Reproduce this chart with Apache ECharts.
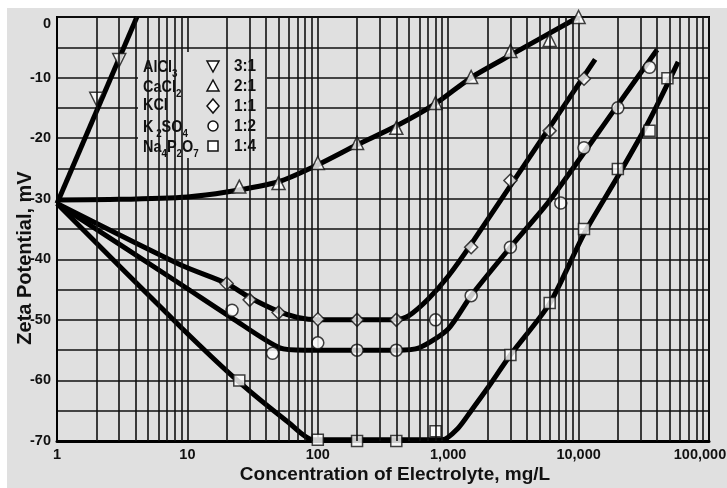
<!DOCTYPE html>
<html><head><meta charset="utf-8">
<script src="https://cdn.jsdelivr.net/npm/echarts@6/dist/echarts.min.js"></script>
<style>html,body{margin:0;padding:0;background:#fff}#c{width:727px;height:488px}</style>
</head><body><div id="c"></div>
<script>
const INK = '#111';
const BG = '#e0e0e0';

// Axis tick labels
const xTickValues = [1, 10, 100, 1000, 10000, 100000];
const xTickLabels = ['1', '10', '100', '1,000', '10,000', '100,000'];
const yTickValues = [0, -10, -20, -30, -40, -50, -60, -70];
const yTickLabels = ['0', '-10', '-20', '-30', '-40', '-50', '-60', '-70'];

// Legend
const seriesNames = ['AlCl3', 'CaCl2', 'KCl', 'K2SO4', 'Na4P2O7'];
const legendRich = ['{b|AlCl}{s|3}', '{b|CaCl}{s|2}', '{b|KCl}', '{b|K}{s| 2}{b|SO}{s|4}', '{b|Na}{s|4}{b|P}{s|2}{b|O}{s|7}'];
const ratios = ['3:1', '2:1', '1:1', '1:2', '1:4'];

// Measured points (markers)
const alcl3X = [2, 3];
const alcl3Y = [-13.5, -7.1];
const cacl2X = [25, 50, 100, 200, 400, 800, 1500, 3000, 6000, 10000];
const cacl2Y = [-28, -27.4, -24.1, -20.8, -18.3, -14.2, -9.9, -5.6, -3.8, 0];
const kclX = [20, 30, 50, 100, 200, 400, 1500, 3000, 6000, 11000];
const kclY = [-44, -46.7, -48.8, -49.9, -50, -50, -38, -27, -18.8, -10.2];
const k2so4X = [22, 45, 100, 200, 400, 800, 1500, 3000, 7300, 11000, 20000, 35000];
const k2so4Y = [-48.4, -55.5, -53.8, -55, -55, -50, -46, -38, -30.7, -21.6, -15, -8.3];
const na4X = [25, 100, 200, 400, 800, 3000, 6000, 11000, 20000, 35000, 48000];
const na4Y = [-60, -69.8, -70, -70, -68.4, -55.8, -47.2, -35, -25.1, -18.8, -10.1];

// Fitted curves
const alcl3LineX = [1, 4.1];
const alcl3LineY = [-30.8, 0];
const cacl2LineX = [1, 3, 10, 20, 50, 100, 200, 400, 800, 1500, 3000, 10000];
const cacl2LineY = [-30.2, -30.1, -29.7, -28.9, -27.2, -24.4, -21.1, -18, -14.3, -10, -6.3, 0];
const kclLineX = [1, 9, 20, 30, 50, 70, 100, 400, 500, 700, 1000, 1500, 13400];
const kclLineY = [-30.8, -41, -44, -46.3, -48.6, -49.6, -50, -50, -49.3, -46.6, -42.8, -37.5, -7];
const k2so4LineX = [1, 9, 22, 51, 80, 400, 600, 1000, 1500, 3000, 6000, 20000, 40000];
const k2so4LineY = [-30.8, -44.2, -49.7, -54.6, -55, -55, -54.6, -51.5, -46, -38, -30.3, -14.5, -5.4];
const na4LineX = [1, 9, 25, 60, 92, 900, 1200, 1500, 2000, 3000, 6000, 11000, 20000, 35000, 58000];
const na4LineY = [-30.8, -51.3, -60.3, -67, -69.8, -69.8, -67.8, -65, -61.3, -55.8, -47.3, -35.8, -26.3, -17, -7.4];

const zip = (xs, ys) => xs.map((x, i) => [x, ys[i]]);

const FONT = "'Liberation Sans', Arial, sans-serif";

// minor log grid positions 2..9 per decade
const minorX = [];
for (let d = 1; d < 100000; d *= 10) for (let m = 2; m <= 9; m++) minorX.push(m * d);

const markerStyle = {color: '#fff', borderColor: INK, borderWidth: 1.5};
const lineSeries = (name, xs, ys) => ({
  name: name + ' fit', type: 'line', data: zip(xs, ys), showSymbol: false, symbol: 'none',
  smooth: 0.25, lineStyle: {color: '#000', width: 5}, z: 3, silent: true
});
const pointSeries = (name, xs, ys, symbol, rot) => ({
  name: name, type: 'scatter', data: zip(xs, ys), symbol: symbol, symbolRotate: rot || 0,
  symbolSize: symbol === 'circle' ? 12 : (symbol === 'rect' ? 11 : 13), itemStyle: markerStyle, z: 4
});

const labelFont = {fontFamily: FONT, fontWeight: 'bold', fontSize: 14.5, color: INK};

// legend graphics
const rowY = [66, 86, 106, 126, 146];
const symX = 213;
function symbolGraphic(kind, cx, cy) {
  const st = {fill: '#fff', stroke: INK, lineWidth: 1.5};
  if (kind === 'down') return {type: 'polygon', shape: {points: [[cx - 6, cy - 5], [cx + 6, cy - 5], [cx, cy + 6]]}, style: st, z: 6};
  if (kind === 'up') return {type: 'polygon', shape: {points: [[cx - 6, cy + 5], [cx + 6, cy + 5], [cx, cy - 6]]}, style: st, z: 6};
  if (kind === 'diamond') return {type: 'polygon', shape: {points: [[cx, cy - 7], [cx + 6, cy], [cx, cy + 7], [cx - 6, cy]]}, style: st, z: 6};
  if (kind === 'circle') return {type: 'circle', shape: {cx: cx, cy: cy, r: 5}, style: st, z: 6};
  return {type: 'rect', shape: {x: cx - 5, y: cy - 5, width: 10, height: 10}, style: st, z: 6};
}
const legendKinds = ['down', 'up', 'diamond', 'circle', 'rect'];
const graphics = [
  {type: 'rect', shape: {x: 0, y: 0, width: 727, height: 8}, style: {fill: '#fff'}, z: 10},
  {type: 'rect', shape: {x: 0, y: 0, width: 7, height: 488}, style: {fill: '#fff'}, z: 10},
  {type: 'rect', shape: {x: 138, y: 52, width: 129, height: 106}, style: {fill: BG}, z: 5}
];
legendRich.forEach((t, i) => {
  const hasSub = t.indexOf('{s|') >= 0;
  graphics.push({
    type: 'text', x: 143, y: rowY[i] + (hasSub ? 2 : 0), z: 6, scaleX: 0.85,
    style: {
      text: t, verticalAlign: 'middle', align: 'left',
      rich: {
        b: {fontFamily: FONT, fontWeight: 'bold', fontSize: 17, lineHeight: 18, verticalAlign: 'top', fill: INK},
        s: {fontFamily: FONT, fontWeight: 'bold', fontSize: 11.5, lineHeight: 13, verticalAlign: 'top', padding: [9, 0, 0, 0], fill: INK}
      }
    }
  });
  graphics.push(symbolGraphic(legendKinds[i], symX, rowY[i]));
  graphics.push({type: 'text', x: 234, y: rowY[i], z: 6, scaleX: 0.9,
    style: {text: ratios[i], verticalAlign: 'middle', align: 'left', fontFamily: FONT, fontWeight: 'bold', fontSize: 17, fill: INK}});
});

const chart = echarts.init(document.getElementById('c'), null, {renderer: 'canvas'});
chart.setOption({
  animation: false,
  backgroundColor: BG,
  grid: {left: 57, right: 18, top: 17, bottom: 47, containLabel: false, outerBoundsMode: 'none',
    show: true, borderColor: '#000', borderWidth: 2, backgroundColor: 'transparent'},
  xAxis: {
    type: 'log', logBase: 10, min: 1, max: 100000,
    axisLine: {show: true, onZero: false, lineStyle: {color: '#000', width: 3}},
    axisTick: {show: false},
    splitLine: {show: true, lineStyle: {color: INK, width: 1.6}},
    axisLabel: Object.assign({margin: 6, hideOverlap: false, formatter: v => {
      const i = xTickValues.findIndex(t => Math.abs(Math.log10(t) - Math.log10(v)) < 1e-6);
      if (i < 0) return '';
      return i === xTickValues.length - 1 ? '{last|' + xTickLabels[i] + '}' : xTickLabels[i];
    }, rich: {last: Object.assign({padding: [0, 18, 0, 0]}, labelFont)}}, labelFont),
    name: 'Concentration of Electrolyte, mg/L', nameLocation: 'middle', nameGap: 24, nameMoveOverlap: false,
    nameTextStyle: {fontFamily: FONT, fontWeight: 'bold', fontSize: 19, color: INK, padding: [0, 0, 0, 24]}
  },
  yAxis: {
    type: 'value', min: -70, max: 0, interval: 5,
    axisLine: {show: true, onZero: false, lineStyle: {color: '#000', width: 2}},
    axisTick: {show: false},
    splitLine: {show: true, lineStyle: {color: INK, width: 1.6}},
    axisLabel: Object.assign({margin: 6, formatter: v => {
      const i = yTickValues.indexOf(v);
      if (i < 0) return '';
      return v === 0 ? '{top|' + yTickLabels[i] + '}' : yTickLabels[i];
    }, rich: {top: Object.assign({padding: [14, 0, 0, 0]}, labelFont)}}, labelFont),
    name: 'Zeta Potential, mV', nameLocation: 'middle', nameGap: 22, nameMoveOverlap: false,
    nameTextStyle: {fontFamily: FONT, fontWeight: 'bold', fontSize: 20, color: INK, padding: [0, 58, 0, 0]}
  },
  graphic: graphics,
  series: [
    {type: 'line', data: [], z: 1, silent: true,
      markLine: {silent: true, symbol: 'none', label: {show: false}, animation: false,
        lineStyle: {color: INK, width: 1.6, type: 'solid'}, emphasis: {disabled: true},
        data: minorX.map(v => ({xAxis: v}))}},
    lineSeries('AlCl3', alcl3LineX, alcl3LineY),
    lineSeries('CaCl2', cacl2LineX, cacl2LineY),
    lineSeries('KCl', kclLineX, kclLineY),
    lineSeries('K2SO4', k2so4LineX, k2so4LineY),
    lineSeries('Na4P2O7', na4LineX, na4LineY),
    pointSeries(seriesNames[0], alcl3X, alcl3Y, 'triangle', 180),
    pointSeries(seriesNames[1], cacl2X, cacl2Y, 'triangle'),
    pointSeries(seriesNames[2], kclX, kclY, 'diamond'),
    pointSeries(seriesNames[3], k2so4X, k2so4Y, 'circle'),
    pointSeries(seriesNames[4], na4X, na4Y, 'rect')
  ]
});
</script></body></html>
